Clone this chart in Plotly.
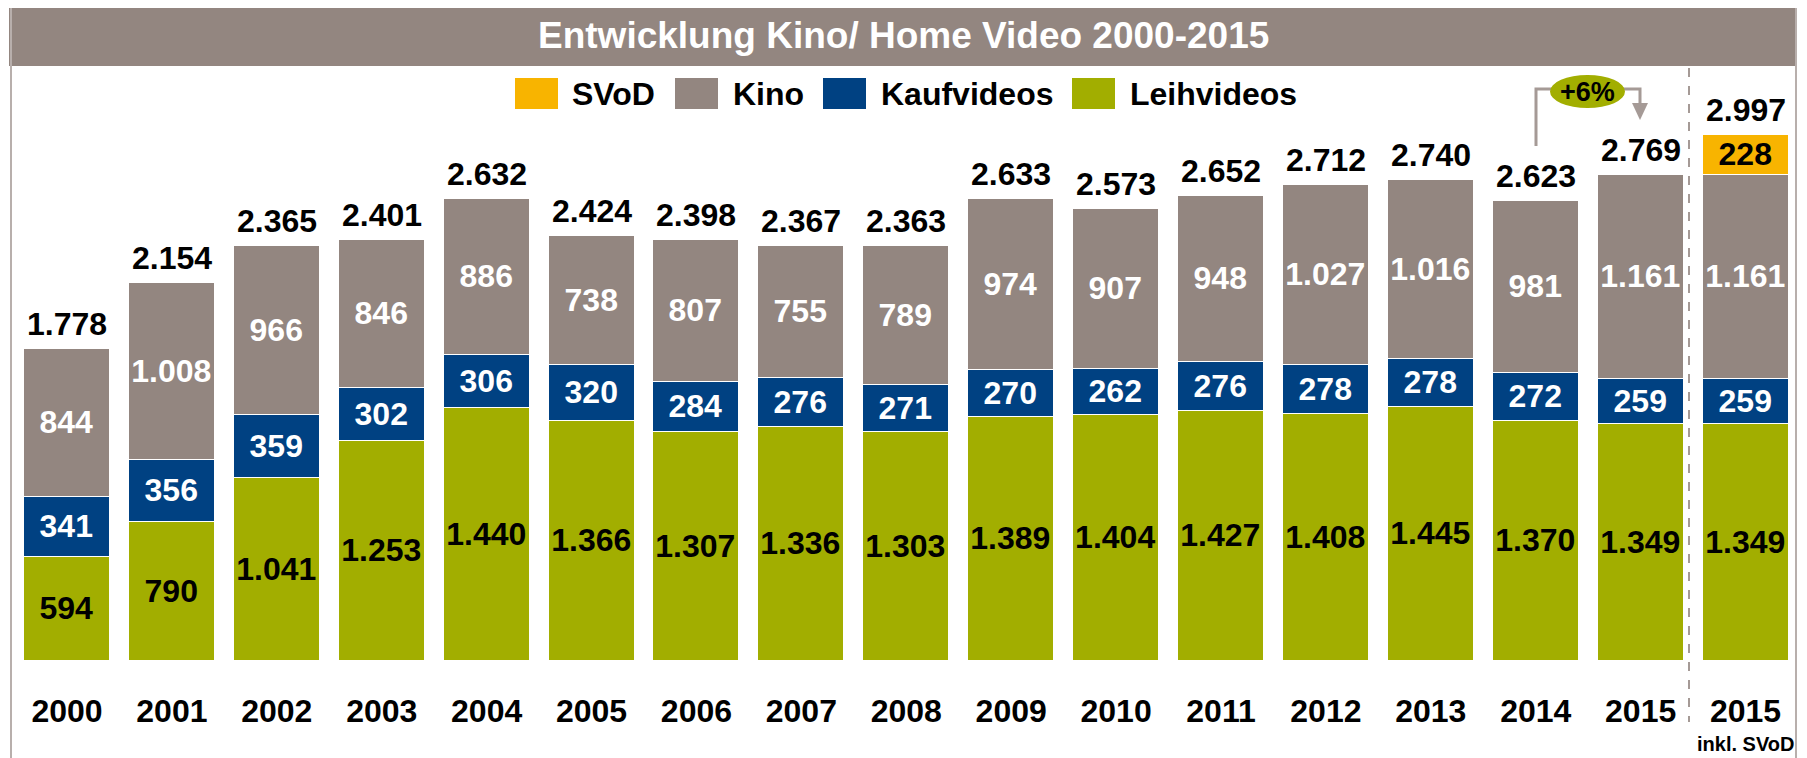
import plotly.graph_objects as go

# ---------------- data ----------------
years = ["2000", "2001", "2002", "2003", "2004", "2005", "2006", "2007", "2008",
         "2009", "2010", "2011", "2012", "2013", "2014", "2015", "2015"]
leihvideos = [594, 790, 1041, 1253, 1440, 1366, 1307, 1336, 1303, 1389, 1404, 1427, 1408, 1445, 1370, 1349, 1349]
kaufvideos = [341, 356, 359, 302, 306, 320, 284, 276, 271, 270, 262, 276, 278, 278, 272, 259, 259]
kino = [844, 1008, 966, 846, 886, 738, 807, 755, 789, 974, 907, 948, 1027, 1016, 981, 1161, 1161]
svod = [None] * 16 + [228]
totals = [1778, 2154, 2365, 2401, 2632, 2424, 2398, 2367, 2363, 2633, 2573, 2652, 2712, 2740, 2623, 2769, 2997]
title = "Entwicklung Kino/ Home Video 2000-2015"
last_sub = "inkl. SVoD"
growth = "+6%"

# ---------------- style ----------------
C_GREY = "#938680"
C_BLUE = "#004182"
C_GREEN = "#a2ae00"
C_ORANGE = "#f8b400"
C_LINE = "#a59a96"
FONT = "Liberation Sans, Arial, sans-serif"

OFF = 8                      # default page body margin
W, H = 1807 - OFF, 758 - OFF
L, R, T, B = 2, 11, 58, 97
pw, ph = W - L - R, H - T - B


def px(sx):
    return (sx - OFF - L) / pw


def py(sy):
    return (H - B - (sy - OFF)) / ph


def fmt(v):
    return "" if v is None else f"{v:,}".replace(",", ".")


xs = list(range(len(years)))

fig = go.Figure()


def add(vals, name, color, tcolor):
    fig.add_trace(go.Bar(
        x=xs, y=vals, name=name, width=0.82,
        marker=dict(color=color, line=dict(color="white", width=1.5)),
        text=[fmt(v) for v in vals], textposition="inside", insidetextanchor="middle",
        textangle=0, constraintext="none",
        textfont=dict(family=FONT, size=32, color=tcolor, weight="bold"),
        hoverinfo="skip", showlegend=False,
    ))


add(leihvideos, "Leihvideos", C_GREEN, "black")
add(kaufvideos, "Kaufvideos", C_BLUE, "white")
add(kino, "Kino", C_GREY, "white")
add(svod, "SVoD", C_ORANGE, "black")

ann = []
for i, t in enumerate(totals):
    ann.append(dict(x=i, y=t, xref="x", yref="y", text=fmt(t), showarrow=False,
                    yanchor="bottom", yshift=5,
                    font=dict(family=FONT, size=32, color="black", weight="bold")))

# title
ann.append(dict(x=px(903), y=py(36), xref="paper", yref="paper", text=title, showarrow=False,
                xanchor="center", yanchor="middle",
                font=dict(family=FONT, size=37, color="white", weight="bold")))
# sub label under last tick
ann.append(dict(x=16, y=py(744), xref="x", yref="paper", text=last_sub, showarrow=False,
                xanchor="center", yanchor="middle",
                font=dict(family=FONT, size=20, color="black", weight="bold")))

shapes = []
# title bar
shapes.append(dict(type="rect", xref="paper", yref="paper", x0=px(9), x1=px(1796), y0=py(66), y1=py(8),
                   fillcolor=C_GREY, line=dict(width=0), layer="below"))
# frame lines
shapes.append(dict(type="line", xref="paper", yref="paper", x0=px(11), x1=px(11), y0=py(8), y1=py(758),
                   line=dict(color="#b8afac", width=2)))
shapes.append(dict(type="line", xref="paper", yref="paper", x0=px(1796), x1=px(1796), y0=py(8), y1=py(758),
                   line=dict(color="#b8afac", width=2)))
# dashed separator
shapes.append(dict(type="line", xref="paper", yref="paper", x0=px(1689), x1=px(1689), y0=py(68), y1=py(722),
                   line=dict(color=C_LINE, width=2, dash="dash")))

# legend (manual)
legend_items = [("SVoD", C_ORANGE, 515, 570), ("Kino", C_GREY, 675, 731),
                ("Kaufvideos", C_BLUE, 823, 879), ("Leihvideos", C_GREEN, 1072, 1128)]
for name, col, x0, tx in legend_items:
    shapes.append(dict(type="rect", xref="paper", yref="paper", x0=px(x0), x1=px(x0 + 43),
                       y0=py(109), y1=py(78), fillcolor=col, line=dict(width=0)))
    ann.append(dict(x=px(tx), y=py(94), xref="paper", yref="paper", text=name, showarrow=False,
                    xanchor="left", yanchor="middle",
                    font=dict(family=FONT, size=32, color="black", weight="bold")))

# +6% growth marker
shapes.append(dict(type="path", xref="paper", yref="paper",
                   path=f"M {px(1536)},{py(146)} L {px(1536)},{py(89)} L {px(1552)},{py(89)}",
                   line=dict(color=C_LINE, width=3)))
shapes.append(dict(type="path", xref="paper", yref="paper",
                   path=f"M {px(1623)},{py(89)} L {px(1640)},{py(89)} L {px(1640)},{py(104)}",
                   line=dict(color=C_LINE, width=3)))
shapes.append(dict(type="path", xref="paper", yref="paper",
                   path=f"M {px(1632)},{py(103)} L {px(1648)},{py(103)} L {px(1640)},{py(120)} Z",
                   fillcolor=C_LINE, line=dict(width=0)))
shapes.append(dict(type="circle", xref="paper", yref="paper", x0=px(1550), x1=px(1625), y0=py(108), y1=py(75),
                   fillcolor=C_GREEN, line=dict(width=0)))
ann.append(dict(x=px(1587.5), y=py(92), xref="paper", yref="paper", text=growth, showarrow=False,
                xanchor="center", yanchor="middle",
                font=dict(family=FONT, size=27, color="black", weight="bold")))

fig.update_layout(
    width=W, height=H, barmode="stack", bargap=0,
    margin=dict(l=L, r=R, t=T, b=B, pad=0),
    paper_bgcolor="white", plot_bgcolor="white",
    showlegend=False,
    annotations=ann, shapes=shapes,
    xaxis=dict(range=[-0.5433, 16.481], tickvals=xs, ticktext=years, showgrid=False, zeroline=False,
               showline=False, ticks="", ticklabelstandoff=28, automargin=False,
               tickfont=dict(family=FONT, size=32, color="black", weight="bold"), fixedrange=True),
    yaxis=dict(range=[0, 3390], visible=False, fixedrange=True, automargin=False),
)

fig.write_html("out.html")
